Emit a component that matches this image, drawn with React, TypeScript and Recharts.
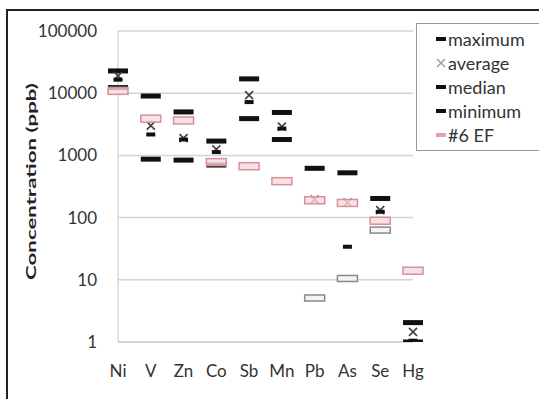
import { ComposedChart, Scatter, XAxis, YAxis, CartesianGrid, Legend } from "recharts";

const elements = ["Ni", "V", "Zn", "Co", "Sb", "Mn", "Pb", "As", "Se", "Hg"];
const maximum = [22800, 9000, 5000, 1700, 17000, 4900, 620, 525, 203, 2.05];
const average = [19000, 3000, 1900, 1250, 9300, 2900, 195, 175, 132, 1.45];
const median = [16500, 2170, 1800, 1130, 7200, 2700, null, 34, 124, 1.05];
const minimum = [12300, 870, 840, 700, 3900, 1800, null, null, null, 1.0];
const belowLimit = [null, null, null, null, null, null, 5.1, 10.5, 63, null];
const ef6 = [10900, 3900, 3650, 780, 670, 385, 190, 172, 89, 14];
const yTicks = [1, 10, 100, 1000, 10000, 100000];

const data = elements.map((name, i) => ({
  name,
  maximum: maximum[i],
  average: average[i],
  median: median[i],
  minimum: minimum[i],
  belowLimit: belowLimit[i],
  ef6: ef6[i],
}));

const font = "Lato, 'Open Sans', sans-serif";

const ok = (p: any, key: string) =>
  p && p.payload && p.payload[key] != null && Number.isFinite(p.cx) && Number.isFinite(p.cy);

const Bar = (key: string, w: number, h: number) => (p: any) =>
  ok(p, key) ? <rect x={p.cx - w / 2} y={p.cy - h / 2} width={w} height={h} fill="#111" /> : <g />;

const Cross = (p: any) =>
  ok(p, "average") ? (
    <path
      d={`M${p.cx - 4},${p.cy - 4}L${p.cx + 4},${p.cy + 4}M${p.cx - 4},${p.cy + 4}L${p.cx + 4},${p.cy - 4}`}
      stroke="#444"
      strokeWidth={1.7}
    />
  ) : (
    <g />
  );

const EfBox = (p: any) =>
  ok(p, "ef6") ? (
    <rect x={p.cx - 10} y={p.cy - 3.5} width={20} height={7} fill="#f6d9dd" fillOpacity={0.8} stroke="#d98f9a" strokeWidth={1.5} />
  ) : (
    <g />
  );

const HollowBox = (p: any) =>
  ok(p, "belowLimit") ? (
    <rect x={p.cx - 10} y={p.cy - 3} width={20} height={6} fill="#f4f4f4" stroke="#888" strokeWidth={1.5} />
  ) : (
    <g />
  );

const legendItems = [
  { label: "maximum", kind: "dash", color: "#111" },
  { label: "average", kind: "cross", color: "#999" },
  { label: "median", kind: "dash", color: "#111" },
  { label: "minimum", kind: "dash", color: "#111" },
  { label: "#6 EF", kind: "dash", color: "#e6a0ab" },
];

function LegendBox() {
  return (
    <div
      style={{
        border: "1.5px solid #999",
        background: "#fff",
        padding: "3px 0 3px 18px",
        width: 104,
        fontFamily: font,
        fontSize: 18,
        color: "#333",
      }}
    >
      {legendItems.map((it) => (
        <div key={it.label} style={{ display: "flex", alignItems: "center", height: 24 }}>
          <svg width={12} height={10} style={{ marginRight: 1 }}>
            {it.kind === "dash" ? (
              <rect x={1} y={3} width={10} height={4} fill={it.color} />
            ) : (
              <path d="M2,1L10,9M2,9L10,1" stroke={it.color} strokeWidth={1.3} />
            )}
          </svg>
          <span>{it.label}</span>
        </div>
      ))}
    </div>
  );
}

const YLabel = (props: any) => {
  const vb = props.viewBox || { x: 0, y: 0, height: 0 };
  const cx = vb.x + 30;
  const cy = vb.y + vb.height / 2 - 5;
  return (
    <text
      x={cx}
      y={cy}
      transform={`rotate(-90, ${cx}, ${cy})`}
      textAnchor="middle"
      dominantBaseline="central"
      fontFamily={font}
      fontWeight="bold"
      fontSize={14}
      fill="#222"
      textLength={197}
      lengthAdjust="spacingAndGlyphs"
    >
      Concentration (ppb)
    </text>
  );
};

export default function App() {
  return (
    <div style={{ position: "fixed", left: 0, top: 0, width: 539, height: 399, overflow: "hidden", background: "#fff" }}>
      <div style={{ position: "absolute", left: 6, top: 9, width: 600, height: 450, border: "2px solid #222" }} />
      <div style={{ position: "absolute", left: 0, top: 0 }}>
        <ComposedChart width={539} height={399} data={data} margin={{ top: 31, right: 2, bottom: 27, left: 0 }}>
          <CartesianGrid vertical={false} stroke="#d4d4d4" strokeWidth={1.5} />
          <XAxis
            dataKey="name"
            height={30}
            tickLine={false}
            tickMargin={17}
            stroke="#c8c8c8"
            tick={{ fill: "#333", fontSize: 17, fontFamily: font }}
          />
          <YAxis
            type="number"
            scale="log"
            domain={[1, 100000]}
            ticks={yTicks}
            allowDataOverflow
            width={118}
            tickLine={false}
            tickMargin={15}
            stroke="#c8c8c8"
            tick={{ fill: "#333", fontSize: 17, fontFamily: font }}
            label={<YLabel />}
          />
          <Legend
            layout="vertical"
            verticalAlign="top"
            align="right"
            content={() => <LegendBox />}
            wrapperStyle={{ position: "absolute", top: 23, left: 416, width: 124 }}
          />
          <Scatter dataKey="maximum" name="maximum" shape={Bar("maximum", 20, 5)} isAnimationActive={false} />
          <Scatter dataKey="minimum" name="minimum" shape={Bar("minimum", 20, 5)} isAnimationActive={false} />
          <Scatter dataKey="belowLimit" name="belowLimit" shape={HollowBox} legendType="none" isAnimationActive={false} />
          <Scatter dataKey="average" name="average" shape={Cross} isAnimationActive={false} />
          <Scatter dataKey="ef6" name="#6 EF" shape={EfBox} isAnimationActive={false} />
          <Scatter dataKey="median" name="median" shape={Bar("median", 9, 4)} isAnimationActive={false} />
        </ComposedChart>
      </div>
    </div>
  );
}
